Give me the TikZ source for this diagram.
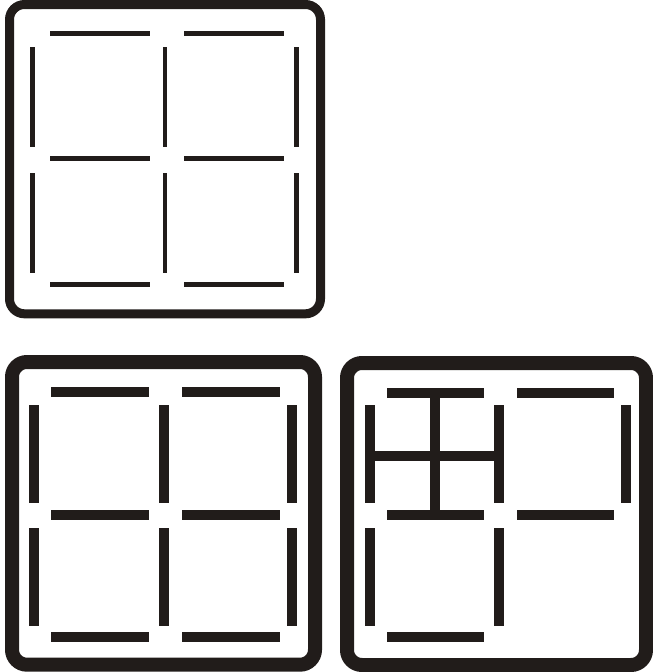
\documentclass[tikz,border=0pt]{standalone}
\usepackage{tikz}
\definecolor{StickBlack}{RGB}{33,28,26}

\begin{document}
\begin{tikzpicture}[x=1pt, y=-1pt,
      thinframe/.style={draw=StickBlack, line width=9pt, rounded corners=15pt},
      thickframe/.style={draw=StickBlack, line width=14pt, rounded corners=15pt},
      thinstick/.style={draw=StickBlack, line width=4.7pt},
      thickstick/.style={draw=StickBlack, line width=10pt}
    ]
      \useasboundingbox (0,0) rectangle (653,672);

      % Top box
      \draw[thinframe] (9.5,4.5) rectangle (320.5,313.8);
      \foreach \y in {33.3,158.7,284.3} {
        \draw[thinstick] (50,\y) -- (150,\y);
        \draw[thinstick] (184,\y) -- (284,\y);
      }
      \foreach \x in {32.3,165,296.3} {
        \draw[thinstick] (\x,47) -- (\x,147);
        \draw[thinstick] (\x,173) -- (\x,273);
      }

      % Bottom left box
      \draw[thickframe] (12,362) rectangle (315,664.7);
      \foreach \y in {391.7,515,636.7} {
        \draw[thickstick] (51,\y) -- (149,\y);
        \draw[thickstick] (182,\y) -- (280,\y);
      }
      \foreach \x in {34,164,292} {
        \draw[thickstick] (\x,405) -- (\x,503);
        \draw[thickstick] (\x,528) -- (\x,626);
      }

      % Bottom right box
      \draw[thickframe] (347,363) rectangle (646,665);
      \foreach \y in {392.7,514.7} {
        \draw[thickstick] (387,\y) -- (483.7,\y);
        \draw[thickstick] (517,\y) -- (614,\y);
      }
      \draw[thickstick] (387,636.7) -- (483.7,636.7);
      \foreach \x in {370,498.7,625.7}
        \draw[thickstick] (\x,405) -- (\x,503);
      \foreach \x in {370,498.7}
        \draw[thickstick] (\x,528) -- (\x,625.5);
      % cross
      \draw[thickstick] (375,455.7) -- (493.7,455.7);
      \draw[thickstick] (435,397.7) -- (435,509.7);
    \end{tikzpicture}
\end{document}
